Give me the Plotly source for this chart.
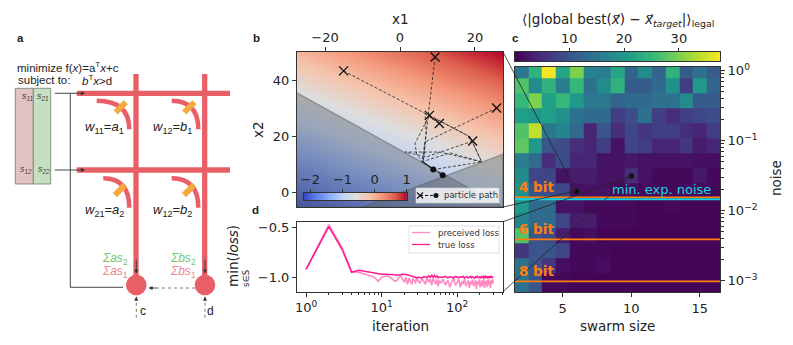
import math
import numpy as np
import plotly.graph_objects as go

# the page keeps its 8px body margin, so the figure is 785x337 and everything is placed
# in window pixels
W, H = 793, 345
PAD = 8
FONT = "DejaVu Sans"
ARIAL = "Liberation Sans"

# panel b
x1_grid = [-27.5, 27.5]
x2_grid = [-5, 50]
cost_grid = [[-2.18, -1.12], [-0.06, 1.0]]
cost_ramp = [-2.2, 1.0]
path_x = [
    [-15.06, 18.7, 21.8, 13.4, 5.8, 8.9],
    [25.8, 6.7, 6.2, 8.9],
    [9.36, 6.7, 5.8, 11.4],
    [7.84, 4.0, 4.5, 6.2, 11.4],
    [10.5, 6.7, 7.0, 6.2, 8.9],
    [19.4, 7.1, 1.3, 10.7, 21.8, 8.9],
    [7.84, 18.7, 21.8],
]
path_y = [
    [43.3, 19.9, 11.0, 14.2, 11.0, 8.3],
    [30.1, 18.1, 11.0, 8.3],
    [48.2, 18.1, 11.0, 6.3],
    [27.5, 17.5, 13.4, 11.0, 6.3],
    [24.6, 28.1, 21.0, 11.0, 8.3],
    [18.4, 12.8, 14.5, 14.5, 11.0, 8.3],
    [27.5, 19.9, 11.0],
]
start_x = [-15.06, 25.8, 9.36, 7.84, 10.5, 19.4]
start_y = [43.3, 30.1, 48.2, 27.5, 24.6, 18.4]
end_x = [8.9, 11.4]
end_y = [8.3, 6.3]
limit1_x = [-27.5, 27.5, -27.5]
limit1_y = [35.5, -5, -5]
limit2_x = [-9.9, 27.5, 27.5]
limit2_y = [-5, 13.7, -5]

# panel c
swarm_size = list(range(2, 17))
noise_edges = 10 ** (0.107 - 0.2143 * np.arange(17))
error_ramp = [0.1, 37.5]
error_rows = [
    [15, 24, 37, 22, 30, 17, 16, 22, 12, 18, 12, 24, 11, 14, 11],
    [27, 18, 24, 16, 25, 14, 18, 24, 11, 11, 13, 19, 7, 20, 12],
    [25, 30, 21, 25, 20, 15, 15, 12, 13, 13, 14, 14, 18, 11, 11],
    [21, 20, 21, 19, 14, 13, 13, 7, 9, 14, 7, 5, 7, 8, 9],
    [27, 34, 15, 17, 13, 4, 10, 5, 8, 6, 7, 7, 5, 4, 7],
    [28, 20, 10, 9, 5, 4, 7, 2, 8, 7, 4, 4, 6, 3, 4],
    [16, 13, 5, 9, 4, 4, 2, 2, 2.5, 2, 2, 2, 2, 1.5, 1.5],
    [18, 8, 8, 2, 3, 3, 2, 2, 5, 2, 1, 1, 1, 2.5, 1],
    [19, 10, 9, 8, 2, 2, 2, 1, 1.5, 1, 1, 1, 1.5, 1, 1],
    [20, 13, 13, 2, 2, 1, 1, 1, 1, 0.5, 0.5, 1, 0.5, 0.5, 0.5],
    [17, 13, 13, 8, 3, 3, 1, 1, 1, 0.5, 0.5, 0.5, 0.5, 0.5, 0.5],
    [27, 10, 9, 3, 1, 1.5, 0.5, 0.5, 0.5, 0.5, 0.5, 0.5, 0.5, 0.5, 0.5],
    [6, 10, 10, 8, 1, 1, 1, 0.5, 0.5, 0.5, 0.5, 0.5, 0.5, 0.5, 0.5],
    [14, 10, 6, 1.5, 1, 1, 1.5, 0.5, 0.5, 0.5, 0.5, 0.5, 0.5, 0.5, 0.5],
    [14, 10, 1, 1, 0.5, 0.5, 0.5, 0.5, 0.5, 0.5, 0.5, 0.5, 0.5, 0.5, 0.5],
    [14, 10, 0.5, 0.5, 0.5, 0.5, 0.5, 0.5, 0.5, 0.5, 0.5, 0.5, 0.5, 0.5, 0.5],
]
bit_noise = [0.0156, 0.0039, 0.00098]
bit_labels = ["4 bit", "6 bit", "8 bit"]
min_exp_noise = 0.0146
picked_size = [6, 10]
picked_noise = [0.019, 0.0313]

# panel d
iteration = [*range(1, 31), *range(32, 61, 2), *range(65, 301, 5)]
true_loss = [
    -0.92, -0.49, -0.72, -0.95, -0.93, -0.94, -0.95, -0.96, -0.97, -0.97,
    -0.97, -0.97, -0.97, -0.97, -0.975, -0.98, -0.98, -0.975, -0.97, -0.97,
    -0.975, -0.975, -0.98, -0.985, -0.985, -0.99, -1.0, -1.0, -1.005, -1.0,
    -1.0, -1.005, -0.995, -1.0, -1.0, -0.985, -1.0, -0.98, -1.0, -0.98,
    -1.0, -0.985, -1.005, -0.995, -1.0,
    -1.0, -0.99, -1.005, -0.995, -1.0, -1.005, -0.99, -1.0, -1.005, -0.995,
    -1.0, -0.99, -1.005, -1.0, -0.995, -1.005, -1.0, -0.99, -1.005, -0.995,
    -1.0, -1.01, -0.995, -1.0, -0.99, -1.005, -1.0, -0.995, -1.01, -0.99,
    -1.0, -1.005, -0.99, -1.0, -1.01, -0.985, -1.0, -1.005, -0.995, -1.0,
    -0.99, -1.005, -1.0, -0.985, -1.005, -0.995, -1.0, -0.995,
]
perceived_loss = [
    -0.92, -0.47, -0.70, -0.94, -0.95, -0.97, -0.98, -1.0, -1.04, -1.0,
    -0.99, -0.99, -1.0, -1.02, -1.04, -1.03, -1.0, -0.99, -1.02, -1.05,
    -1.0, -1.07, -1.01, -1.04, -1.07, -1.01, -1.03, -1.06, -1.0, -1.03,
    -1.06, -1.01, -1.04, -1.07, -1.0, -1.05, -1.02, -1.08, -1.01, -1.04,
    -1.07, -1.02, -1.09, -1.03, -1.06,
    -1.02, -1.08, -1.03, -1.10, -1.04, -1.01, -1.08, -1.05, -1.02, -1.10,
    -1.04, -1.07, -1.01, -1.09, -1.05, -1.03, -1.11, -1.04, -1.07, -1.02,
    -1.09, -1.05, -1.03, -1.12, -1.04, -1.07, -1.02, -1.10, -1.05, -1.03,
    -1.09, -1.06, -1.02, -1.11, -1.04, -1.07, -1.03, -1.10, -1.05, -1.02,
    -1.08, -1.04, -1.11, -1.03, -1.07, -1.05, -1.02, -1.06,
]

coolwarm = [
    [0.0, "#3a4cc0"], [0.125, "#6282ea"], [0.25, "#8db0fe"], [0.375, "#c0d4f5"],
    [0.5, "#dddddd"], [0.625, "#f5c4ad"], [0.75, "#f4987a"], [0.875, "#de604d"],
    [1.0, "#b40426"],
]

PINK = "#ff8ac4"
HOT = "#ff1a92"


def px(x):
    return (x - PAD) / (W - PAD)


def py(y):
    return 1 - (y - PAD) / (H - PAD)


def box(left, right):
    return [px(left), px(right)]


def boxy(top, bottom):
    return [py(bottom), py(top)]


fig = go.Figure()

# --- panel b
fig.add_trace(go.Heatmap(
    x=x1_grid, y=x2_grid, z=cost_grid, zsmooth="best", colorscale=coolwarm,
    zmin=-2.2, zmax=1.0, xaxis="x", yaxis="y", hoverinfo="skip", showscale=False,
))
for lx, ly in [(limit1_x, limit1_y), (limit2_x, limit2_y)]:
    fig.add_trace(go.Scatter(
        x=lx, y=ly, fill="toself", mode="lines", fillcolor="rgba(90,90,90,0.38)",
        line=dict(color="rgba(90,90,90,0.45)", width=1.5), xaxis="x", yaxis="y",
        showlegend=False, hoverinfo="skip",
    ))
for px_, py_ in zip(path_x, path_y):
    fig.add_trace(go.Scatter(
        x=px_, y=py_, mode="lines", line=dict(color="#222", width=0.8, dash="3px,2px"),
        xaxis="x", yaxis="y", showlegend=False, hoverinfo="skip",
    ))
fig.add_trace(go.Scatter(
    x=start_x, y=start_y, mode="markers", xaxis="x", yaxis="y", showlegend=False,
    marker=dict(symbol="x-thin", size=9, line=dict(color="#111", width=1.3)),
))
fig.add_trace(go.Scatter(
    x=end_x, y=end_y, mode="markers", xaxis="x", yaxis="y", showlegend=False,
    marker=dict(symbol="circle", size=6, color="#111"),
))

# --- panel c
fig.add_trace(go.Heatmap(
    x=swarm_size, y=noise_edges, z=error_rows, colorscale="Viridis", zmin=0.1, zmax=37.5,
    xaxis="x2", yaxis="y2", hoverinfo="skip", showscale=False,
))
for n in bit_noise:
    fig.add_trace(go.Scatter(
        x=[1.52, 16.47], y=[n, n], mode="lines", line=dict(color="#ff7f0e", width=1.6),
        xaxis="x2", yaxis="y2", showlegend=False, hoverinfo="skip",
    ))
fig.add_trace(go.Scatter(
    x=[1.52, 16.47], y=[min_exp_noise, min_exp_noise], mode="lines",
    line=dict(color="#17d5e0", width=1.8), xaxis="x2", yaxis="y2",
    showlegend=False, hoverinfo="skip",
))
fig.add_trace(go.Scatter(
    x=picked_size, y=picked_noise, mode="markers", xaxis="x2", yaxis="y2",
    showlegend=False, marker=dict(size=5.5, color="#111"),
))

# --- panel d
fig.add_trace(go.Scatter(
    x=iteration, y=perceived_loss, mode="lines", name="preceived loss",
    line=dict(color=PINK, width=1.6), xaxis="x3", yaxis="y3", showlegend=False,
))
fig.add_trace(go.Scatter(
    x=iteration, y=true_loss, mode="lines", name="true loss",
    line=dict(color=HOT, width=1.5), xaxis="x3", yaxis="y3", showlegend=False,
))

# --- connector lines and the two keys, on a sheet over the whole figure
for x0, y0, x1, y1 in [(503, 52, 576, 191), (503, 207, 576, 191),
                       (503, 221.7, 631, 176), (503, 291.7, 631, 176)]:
    fig.add_trace(go.Scatter(
        x=[x0, x1], y=[y0, y1], mode="lines", line=dict(color="#222", width=0.8),
        xaxis="x4", yaxis="y4", showlegend=False, hoverinfo="skip",
    ))
for l, r, t, b in [(416, 499, 188, 203), (409, 499, 226, 253)]:
    fig.add_trace(go.Scatter(
        x=[l, r, r, l, l], y=[t, t, b, b, t], fill="toself", mode="lines",
        fillcolor="rgba(255,255,255,0.8)", line=dict(color="rgba(210,210,210,0.8)", width=0.8),
        xaxis="x4", yaxis="y4", showlegend=False, hoverinfo="skip",
    ))
fig.add_trace(go.Scatter(
    x=[420, 436], y=[195.5, 195.5], mode="lines", xaxis="x4", yaxis="y4",
    line=dict(color="#111", width=1, dash="3px,2px"), showlegend=False, hoverinfo="skip",
))
fig.add_trace(go.Scatter(
    x=[420], y=[195.5], mode="markers", xaxis="x4", yaxis="y4", showlegend=False,
    marker=dict(symbol="x-thin", size=6, line=dict(color="#111", width=1.1)),
))
fig.add_trace(go.Scatter(
    x=[436], y=[195.5], mode="markers", xaxis="x4", yaxis="y4", showlegend=False,
    marker=dict(size=5, color="#111"),
))
for y, c in [(232.5, PINK), (244.5, HOT)]:
    fig.add_trace(go.Scatter(
        x=[412, 430], y=[y, y], mode="lines", line=dict(color=c, width=1.3),
        xaxis="x4", yaxis="y4", showlegend=False, hoverinfo="skip",
    ))

# --- colour bars, each a ramp on its own small axis so the ticks can sit on top
fig.add_trace(go.Heatmap(
    x=cost_ramp, y=[0, 1], z=[cost_ramp, cost_ramp], zsmooth="best", colorscale=coolwarm,
    zmin=-2.2, zmax=1.0, xaxis="x5", yaxis="y5", hoverinfo="skip", showscale=False,
))
fig.add_trace(go.Heatmap(
    x=error_ramp, y=[0, 1], z=[error_ramp, error_ramp], zsmooth="best", colorscale="Viridis",
    zmin=0.1, zmax=37.5, xaxis="x6", yaxis="y6", hoverinfo="skip", showscale=False,
))

# --- panel a, the crossbar drawing
RED = "#e85f68"
shapes = []


def line(x0, y0, x1, y1, color=RED, width=5.3, dash=None):
    shapes.append(dict(
        type="line", xref="paper", yref="paper", x0=px(x0), y0=py(y0), x1=px(x1), y1=py(y1),
        line=dict(color=color, width=width, dash=dash),
    ))


def rect(x0, y0, x1, y1, fill, edge="#777"):
    shapes.append(dict(
        type="rect", xref="paper", yref="paper", x0=px(x0), y0=py(y0), x1=px(x1), y1=py(y1),
        fillcolor=fill, line=dict(color=edge, width=0.8),
    ))


def arc(x0, y0, x1, y1):
    shapes.append(dict(
        type="path", xref="paper", yref="paper",
        path=f"M {px(x0)} {py(y0)} Q {px(x1)} {py(y0)} {px(x1)} {py(y1)}",
        line=dict(color=RED, width=4.5),
    ))


def tilted(cx, cy, length=14, thick=5.5):
    a = math.radians(-45)
    ux, uy = math.cos(a), math.sin(a)
    vx, vy = -uy, ux
    pts = []
    for s, t in [(-1, -1), (1, -1), (1, 1), (-1, 1)]:
        pts.append((cx + s * length / 2 * ux + t * thick / 2 * vx,
                    cy + s * length / 2 * uy + t * thick / 2 * vy))
    d = "M " + " L ".join(f"{px(a_)} {py(b_)}" for a_, b_ in pts) + " Z"
    shapes.append(dict(type="path", xref="paper", yref="paper", path=d,
                       fillcolor="#f5a93f", line=dict(color="#f5a93f", width=0.5)))


def disc(cx, cy, r):
    shapes.append(dict(
        type="circle", xref="paper", yref="paper", x0=px(cx - r), x1=px(cx + r),
        y0=py(cy + r), y1=py(cy - r), fillcolor=RED, line=dict(color=RED, width=0),
    ))


rect(15.3, 88.3, 33.3, 184, "#e2c3c3")
rect(33.3, 88.3, 50.7, 184, "#c4e0c0")
for y in [93.3, 170]:
    line(76.7, y, 230, y)
for x in [136, 204.7]:
    line(x, 74, x, 280)
for x0, y0, x1, y1 in [(96.7, 100.7, 129.3, 129.3), (171.7, 100.7, 198.3, 129.3),
                       (103.3, 178.3, 129.3, 207.7), (171.7, 178.3, 198.3, 207.7)]:
    arc(x0, y0, x1, y1)
for cx, cy in [(120.7, 107.3), (189.3, 107.3), (120, 190), (189, 190)]:
    tilted(cx, cy)
disc(136.3, 285, 10.3)
disc(205, 285, 10.3)
line(70.3, 93.3, 70.3, 287.3, color="#333", width=0.9)
line(70.3, 287.3, 123, 287.3, color="#333", width=0.9)

notes = []


def note(x, y, text, size=11, color="#222", family=ARIAL, anchor="center", angle=0):
    notes.append(dict(
        xref="paper", yref="paper", x=px(x), y=py(y), text=text, showarrow=False,
        xanchor=anchor, yanchor="middle", textangle=angle,
        font=dict(family=family, size=size, color=color),
    ))


def arrow(x0, y0, x1, y1):
    notes.append(dict(
        xref="paper", yref="paper", x=px(x1), y=py(y1), text="", showarrow=True,
        axref="pixel", ayref="pixel", ax=x0 - x1, ay=y0 - y1,
        arrowhead=2, arrowsize=0.9, arrowwidth=0.9, arrowcolor="#333",
    ))


for x, y, t in [(27, 96, "s<sub>11</sub>"), (43, 96, "s<sub>21</sub>"),
                (26, 170, "s<sub>12</sub>"), (44, 170, "s<sub>22</sub>")]:
    note(x, y, f"<i>{t}</i>", size=9, color="#444")
note(15, 66.7, "minimize f(<i>x</i>)=a<sup>T</sup><i>x</i>+c", size=11.5, anchor="left")
note(16, 80, "subject to:", size=11.5, anchor="left")
note(80, 80, "<i>b</i><sup>T</sup><i>x</i>&gt;d", size=11.5, anchor="left")
note(104, 127, "<i>w</i><sub>11</sub>=<i>a</i><sub>1</sub>", size=13)
note(172, 127, "<i>w</i><sub>12</sub>=<i>b</i><sub>1</sub>", size=13)
note(104, 210, "<i>w</i><sub>21</sub>=<i>a</i><sub>2</sub>", size=13)
note(172, 210, "<i>w</i><sub>12</sub>=<i>b</i><sub>2</sub>", size=13)
note(115, 258.5, "<i>Σas</i><sub>2</sub>", size=12, color="#72c472")
note(115, 272, "<i>Σas</i><sub>1</sub>", size=12, color="#f0868c")
note(183, 258.5, "<i>Σbs</i><sub>2</sub>", size=12, color="#72c472")
note(183, 272, "<i>Σbs</i><sub>1</sub>", size=12, color="#f0868c")
note(142.5, 310.7, "c", size=12)
note(210.7, 310.7, "d", size=12)
arrow(53.3, 93.3, 85, 93.3)
arrow(53.3, 170, 85, 170)
arrow(136.3, 258, 136.3, 273.5)
arrow(205, 258, 205, 273.5)
for x0, y0, x1, y1 in [(195, 288, 148.5, 288), (136.3, 317.7, 136.3, 296.7), (205, 317.7, 205, 296.7)]:
    line(x0, y0, x1, y1, color="#555", width=0.8, dash="dot")
    arrow(x0 + (x1 - x0) * 0.8, y0 + (y1 - y0) * 0.8, x1, y1)

for x, y, t in [(20, 38, "a"), (256, 37.7, "b"), (515.7, 37.7, "c"), (255, 210, "d")]:
    note(x, y, f"<b>{t}</b>", size=11.5)

# panel labels in the chart font
note(400, 19, "x1", size=13.5, family=FONT)
note(258, 130, "x2", size=13.5, family=FONT, angle=-90)
note(400, 326, "iteration", size=13.5, family=FONT)
note(617, 326, "swarm size", size=13.5, family=FONT)
note(776, 178, "noise", size=13.5, family=FONT, angle=-90)
note(233, 256, "min(<i>loss</i>)", size=13.5, family=FONT, angle=-90)
note(246, 279, "s∈S", size=8.5, family=FONT, angle=-90)
note(618, 20, "⟨|global best(<i>x⃗</i>) − <i>x⃗</i><sub><i>target</i></sub>|⟩<sub>legal</sub>",
     size=13.5, family=FONT)
note(442, 195.5, "particle path", size=8.5, family=FONT, anchor="left", color="#333")
note(436, 232.5, "preceived loss", size=8.5, family=FONT, anchor="left", color="#333")
note(436, 244.5, "true loss", size=8.5, family=FONT, anchor="left", color="#333")
for t, y in zip(bit_labels, [187, 229, 271]):
    note(517, y, f"<b>{t}</b>", size=13.5, family=FONT, anchor="left", color="#ff7f0e")
note(661, 189, "min. exp. noise", size=13, family=FONT, color="#17d5e0")

axis_common = dict(
    showgrid=False, zeroline=False, showline=True, mirror=True, linecolor="#333",
    linewidth=1, ticks="outside", ticklen=4, tickcolor="#333",
    tickfont=dict(family=FONT, size=13, color="#222"), fixedrange=True,
)
decades_d = [1, 10, 100]
decades_c = [1, 0.1, 0.01, 0.001]
minor_d = [m * d for d in [1, 10, 100] for m in range(2, 10)]
minor_c = [m * d for d in [0.001, 0.01, 0.1, 1] for m in range(2, 10)]

fig.update_layout(
    width=W - PAD, height=H - PAD, margin=dict(l=0, r=0, t=0, b=0, autoexpand=False),
    paper_bgcolor="white", plot_bgcolor="rgba(0,0,0,0)", shapes=shapes, annotations=notes,
    font=dict(family=FONT, size=13, color="#222"), showlegend=False,
    xaxis=dict(axis_common, domain=box(297, 503), range=[-27.5, 27.5], side="top",
               tickvals=[-20, 0, 20], ticktext=["−20", "0", "20"], anchor="y"),
    yaxis=dict(axis_common, domain=boxy(52, 207), range=[-5, 50], tickvals=[0, 20, 40],
               anchor="x"),
    xaxis2=dict(axis_common, domain=box(515, 720), range=[1.52, 16.47],
                tickvals=[5, 10, 15], anchor="y2"),
    yaxis2=dict(axis_common, domain=boxy(66.7, 292), type="log", range=[-3.16, 0.057],
                side="right", anchor="x2", tickvals=decades_c,
                ticktext=["10<sup>0</sup>", "10<sup>−1</sup>", "10<sup>−2</sup>", "10<sup>−3</sup>"],
                minor=dict(tickvals=minor_c, ticks="outside", ticklen=2.5, tickcolor="#333")),
    xaxis3=dict(axis_common, domain=box(297, 503), type="log", range=[-0.12, 2.606],
                anchor="y3", tickvals=decades_d,
                ticktext=["10<sup>0</sup>", "10<sup>1</sup>", "10<sup>2</sup>"],
                minor=dict(tickvals=minor_d, ticks="outside", ticklen=2.5, tickcolor="#333")),
    yaxis3=dict(axis_common, domain=boxy(221.7, 291.7), range=[-1.145, -0.44],
                tickvals=[-1.0, -0.5], ticktext=["−1.0", "−0.5"], anchor="x3"),
    xaxis4=dict(domain=[0, 1], range=[PAD, W], visible=False, anchor="y4", fixedrange=True),
    yaxis4=dict(domain=[0, 1], range=[H, PAD], visible=False, anchor="x4", fixedrange=True),
    xaxis5=dict(axis_common, domain=box(304, 406.7), range=cost_ramp, side="top", anchor="y5",
                tickvals=[-2, -1, 0, 1], ticktext=["−2", "−1", "0", "1"], ticklen=3),
    yaxis5=dict(axis_common, domain=boxy(192.7, 200.3), range=[0, 1], anchor="x5",
                showticklabels=False, ticks=""),
    xaxis6=dict(axis_common, domain=box(515, 720), range=error_ramp, side="top", anchor="y6",
                tickvals=[10, 20, 30], ticklen=3),
    yaxis6=dict(axis_common, domain=boxy(52, 61), range=[0, 1], anchor="x6",
                showticklabels=False, ticks=""),
)

fig.write_html("out.html")
